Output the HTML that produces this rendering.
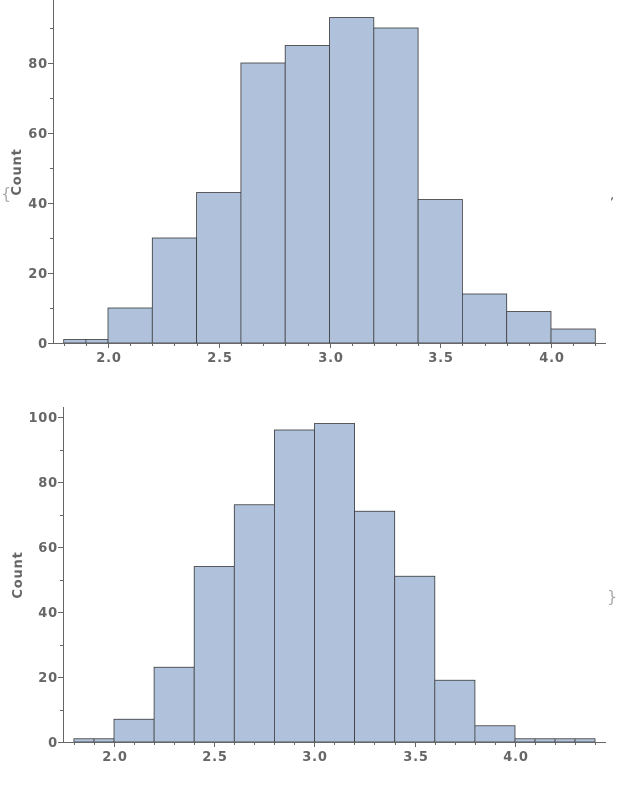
<!DOCTYPE html>
<html><head><meta charset="utf-8"><style>
body{margin:0;background:#fff}
svg text{font-family:"DejaVu Sans","Liberation Sans",sans-serif;font-weight:bold;font-size:13px;fill:#666;letter-spacing:0.8px}
.b{fill:#b0c1db;stroke:#3a3a3a;stroke-width:0.8}
.ax{stroke:#666;stroke-width:1;fill:none}
</style></head><body>
<svg width="617" height="788" viewBox="0 0 617 788" xmlns="http://www.w3.org/2000/svg">
<g>
<rect class="b" x="63.7" y="339.5" width="22.2" height="3.5"/>
<rect class="b" x="85.9" y="339.5" width="22.1" height="3.5"/>
<rect class="b" x="108" y="308" width="44.3" height="35"/>
<rect class="b" x="152.3" y="238" width="44.3" height="105"/>
<rect class="b" x="196.6" y="192.5" width="44.3" height="150.5"/>
<rect class="b" x="240.9" y="63" width="44.3" height="280"/>
<rect class="b" x="285.2" y="45.5" width="44.3" height="297.5"/>
<rect class="b" x="329.5" y="17.5" width="44.3" height="325.5"/>
<rect class="b" x="373.8" y="28" width="44.3" height="315"/>
<rect class="b" x="418.1" y="199.5" width="44.3" height="143.5"/>
<rect class="b" x="462.4" y="294" width="44.3" height="49"/>
<rect class="b" x="506.7" y="311.5" width="44.3" height="31.5"/>
<rect class="b" x="551" y="329" width="44.3" height="14"/>
<path class="ax" d="M53.5 0V343.5H606"/>
<path class="ax" d="M53 343.5h-5M53 273.5h-5M53 203.5h-5M53 133.5h-5M53 63.5h-5M53 308.5h-3M53 238.5h-3M53 168.5h-3M53 98.5h-3M53 28.5h-3
M108.5 343v5M219.5 343v5M330.5 343v5M440.5 343v5M551.5 343v5M64.5 343v3M86.5 343v3M130.5 343v3M152.5 343v3M174.5 343v3M197.5 343v3M241.5 343v3M263.5 343v3M285.5 343v3M308.5 343v3M352.5 343v3M374.5 343v3M396.5 343v3M418.5 343v3M462.5 343v3M485.5 343v3M507.5 343v3M529.5 343v3M573.5 343v3M595.5 343v3"/>
<text x="48" y="348" text-anchor="end">0</text>
<text x="48" y="278" text-anchor="end">20</text>
<text x="48" y="208" text-anchor="end">40</text>
<text x="48" y="138" text-anchor="end">60</text>
<text x="48" y="68" text-anchor="end">80</text>
<text x="109" y="362" text-anchor="middle">2.0</text>
<text x="220" y="362" text-anchor="middle">2.5</text>
<text x="331" y="362" text-anchor="middle">3.0</text>
<text x="441" y="362" text-anchor="middle">3.5</text>
<text x="552" y="362" text-anchor="middle">4.0</text>
<text transform="translate(21,172) rotate(-90)" text-anchor="middle">Count</text>
<text x="1" y="199" style="font-weight:normal;fill:#aaa;font-size:16px">{</text>
<text x="610" y="199" style="font-weight:normal;fill:#555;font-size:13px">,</text>
</g>
<g>
<rect class="b" x="73.9" y="738.75" width="20.1" height="3.25"/>
<rect class="b" x="94" y="738.75" width="20" height="3.25"/>
<rect class="b" x="114" y="719.25" width="40.1" height="22.75"/>
<rect class="b" x="154.1" y="667.25" width="40.1" height="74.75"/>
<rect class="b" x="194.2" y="566.5" width="40.1" height="175.5"/>
<rect class="b" x="234.3" y="504.75" width="40.1" height="237.25"/>
<rect class="b" x="274.4" y="430" width="40.1" height="312"/>
<rect class="b" x="314.5" y="423.5" width="40.1" height="318.5"/>
<rect class="b" x="354.6" y="511.25" width="40.1" height="230.75"/>
<rect class="b" x="394.7" y="576.25" width="40.1" height="165.75"/>
<rect class="b" x="434.8" y="680.25" width="40.1" height="61.75"/>
<rect class="b" x="474.9" y="725.75" width="40.1" height="16.25"/>
<rect class="b" x="515" y="738.75" width="20" height="3.25"/>
<rect class="b" x="535" y="738.75" width="20" height="3.25"/>
<rect class="b" x="555" y="738.75" width="20" height="3.25"/>
<rect class="b" x="575" y="738.75" width="20" height="3.25"/>
<path class="ax" d="M63.5 407V742.5H606"/>
<path class="ax" d="M63 742.5h-5M63 677.5h-5M63 612.5h-5M63 547.5h-5M63 482.5h-5M63 417.5h-5M63 710.5h-3M63 645.5h-3M63 580.5h-3M63 515.5h-3M63 450.5h-3
M114.5 742v5M214.5 742v5M314.5 742v5M415.5 742v5M515.5 742v5M74.5 742v3M94.5 742v3M134.5 742v3M154.5 742v3M174.5 742v3M194.5 742v3M234.5 742v3M254.5 742v3M274.5 742v3M294.5 742v3M334.5 742v3M354.5 742v3M374.5 742v3M395.5 742v3M435.5 742v3M455.5 742v3M475.5 742v3M495.5 742v3M535.5 742v3M555.5 742v3M575.5 742v3M595.5 742v3"/>
<text x="58" y="747" text-anchor="end">0</text>
<text x="58" y="682" text-anchor="end">20</text>
<text x="58" y="617" text-anchor="end">40</text>
<text x="58" y="552" text-anchor="end">60</text>
<text x="58" y="487" text-anchor="end">80</text>
<text x="58" y="422" text-anchor="end">100</text>
<text x="115" y="761" text-anchor="middle">2.0</text>
<text x="215" y="761" text-anchor="middle">2.5</text>
<text x="315" y="761" text-anchor="middle">3.0</text>
<text x="416" y="761" text-anchor="middle">3.5</text>
<text x="516" y="761" text-anchor="middle">4.0</text>
<text transform="translate(22,575) rotate(-90)" text-anchor="middle">Count</text>
<text x="607" y="602" style="font-weight:normal;fill:#aaa;font-size:16px">}</text>
</g>
</svg>
</body></html>
